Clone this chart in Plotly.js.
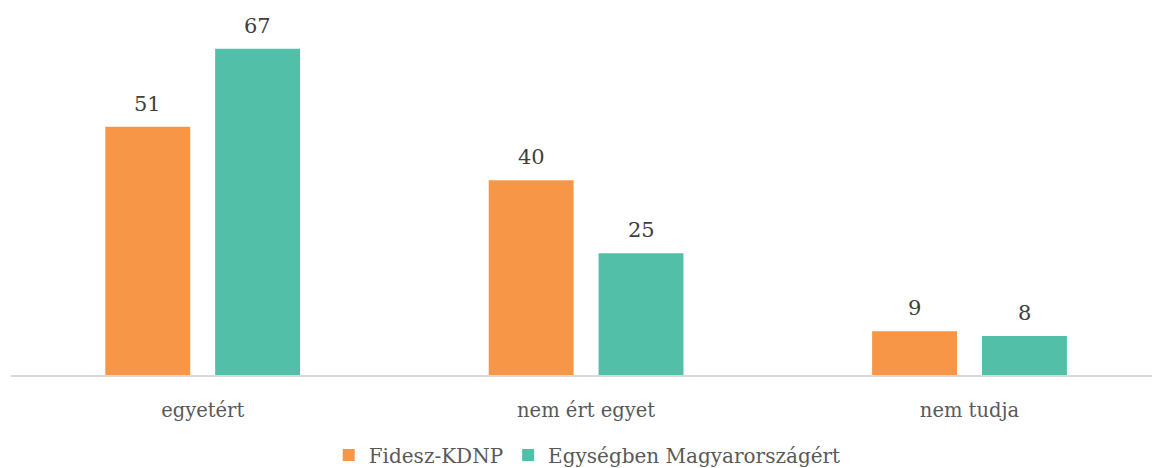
<!DOCTYPE html>
<html>
<head>
<meta charset="utf-8">
<script src="https://cdn.plot.ly/plotly-3.0.1.min.js"></script>
<style>html,body{margin:0;padding:0;background:#fff;}#chart{width:1152px;height:468px;}</style>
</head>
<body>
<div id="chart"></div>
<script>
const categories = ["egyetért", "nem ért egyet", "nem tudja"];
const seriesNames = ["Fidesz-KDNP", "Egységben Magyarországért"];
const fidesz = [51, 40, 9];
const egyseg = [67, 25, 8];
const colors = ["#F79646", "#52BFA8"];

const FONT = "DejaVu Serif, Liberation Serif, serif";
const series = [fidesz, egyseg];

const traces = series.map((vals, i) => ({
  type: "bar",
  name: seriesNames[i],
  x: categories,
  y: vals,
  marker: {color: colors[i]},
  hoverinfo: "none"
}));

const annotations = [];
series.forEach((vals, i) => {
  vals.forEach((v, j) => {
    annotations.push({
      x: categories[j], y: v, xref: "x", yref: "y",
      text: String(v), showarrow: false,
      xshift: i === 0 ? -55 : 55, yanchor: "bottom", yshift: 9,
      font: {family: FONT, size: 21, color: "#404040"}
    });
  });
});

const layout = {
  width: 1152, height: 468,
  margin: {l: 11, r: 0, t: 25, b: 93, autoexpand: false},
  paper_bgcolor: "#fff", plot_bgcolor: "#fff",
  barmode: "group", bargap: 0.427, bargroupgap: 0.227,
  font: {family: FONT, color: "#595959", size: 19},
  xaxis: {
    type: "category", range: [-0.5, 2.476],
    showline: true, linecolor: "#D9D9D9", linewidth: 2,
    ticks: "", ticklabelstandoff: 17,
    tickfont: {family: FONT, size: 19.5, color: "#595959"},
    showgrid: false, zeroline: false, fixedrange: true
  },
  yaxis: {
    range: [0, 71.9], visible: false, showgrid: false, zeroline: false, fixedrange: true
  },
  showlegend: true,
  legend: {
    orientation: "h", x: 0.505, xanchor: "center", y: -0.173, yanchor: "top",
    font: {family: FONT, size: 20, color: "#595959"},
    itemwidth: 30, traceorder: "normal"
  },
  annotations: annotations
};

Plotly.newPlot("chart", traces, layout, {displayModeBar: false, staticPlot: true});
</script>
</body>
</html>
